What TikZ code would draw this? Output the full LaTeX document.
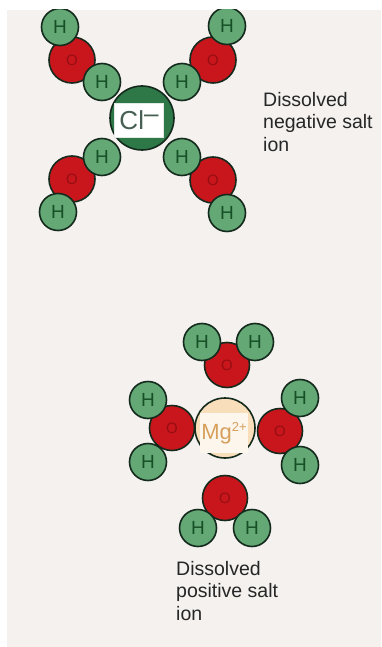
\documentclass[tikz,border=0pt]{standalone}
\usepackage{fontspec}
\setmainfont{Liberation Sans}
\begin{document}
\definecolor{paper}{RGB}{244,241,238}
\definecolor{hfill}{RGB}{100,168,118}
\definecolor{hink}{RGB}{22,80,38}
\definecolor{ofill}{RGB}{200,22,28}
\definecolor{oink}{RGB}{150,14,18}
\definecolor{rim}{RGB}{20,42,28}
\definecolor{clfill}{RGB}{46,120,72}
\definecolor{clink}{RGB}{70,96,84}
\definecolor{mgfill}{RGB}{248,222,186}
\definecolor{mgcard}{RGB}{253,246,236}
\definecolor{mgink}{RGB}{214,160,92}
\begin{tikzpicture}[x=1pt,y=-1pt,
  hatom/.style={circle,draw=rim,line width=1.6pt,fill=hfill,minimum size=37pt,inner sep=0pt,
    text=hink,font=\fontsize{19}{19}\selectfont},
  oatom/.style={circle,draw=rim,line width=1.6pt,fill=ofill,minimum size=46pt,inner sep=0pt,
    text=oink,font=\fontsize{15}{15}\selectfont},
  caption/.style={anchor=north west,align=left,inner sep=0pt,text=black!85,
    font=\fontsize{19.5}{22.5}\selectfont}]
\useasboundingbox (0,0) rectangle (381,647);
\fill[white] (0,0) rectangle (381,647);
\fill[paper] (7,10) rectangle (381,647);
\begin{scope}
\clip (7,10) rectangle (381,647);
% chloride ion with four water molecules, hydrogen side inwards
\node[oatom] (o1) at (72,60) {O};
\node[oatom] (o2) at (213,60) {O};
\node[oatom] (o3) at (72,179) {O};
\node[oatom] (o4) at (213,180) {O};
\node[hatom] (h1a) at (60,27) {H};
\node[hatom] (h1b) at (102,82) {H};
\node[hatom] (h2a) at (227,26) {H};
\node[hatom] (h2b) at (182,82) {H};
\node[hatom] (h3a) at (102,157) {H};
\node[hatom] (h3b) at (58,212) {H};
\node[hatom] (h4a) at (182,157) {H};
\node[hatom] (h4b) at (227,213) {H};
\node[circle,draw=rim,line width=1.6pt,fill=clfill,minimum size=64pt,inner sep=0pt] (cl) at (142,118) {};
\node[fill=white,draw=white!85!clfill,line width=0.6pt,minimum width=49pt,minimum height=34pt,inner sep=0pt,
  text=clink,font=\fontsize{26}{26}\selectfont] (clcard) at (139,120) {Cl\raisebox{7pt}{--}};
% magnesium ion with four water molecules, oxygen side inwards
\node[circle,draw=rim,line width=1.6pt,fill=mgfill,minimum size=60pt,inner sep=0pt] (mg) at (225,428) {};
\node[fill=mgcard,minimum width=48pt,minimum height=40pt,inner sep=0pt,
  text=mgink,font=\fontsize{22}{22}\selectfont] (mgcard) at (224,433) {Mg\raisebox{8pt}{\fontsize{13}{13}\selectfont 2+}};
\node[oatom,minimum size=45pt] (o5) at (227,365) {O};
\node[oatom,minimum size=45pt] (o6) at (172,428) {O};
\node[oatom,minimum size=45pt] (o7) at (280,431) {O};
\node[oatom,minimum size=45pt] (o8) at (225,498) {O};
\node[hatom] (h5a) at (202,342) {H};
\node[hatom] (h5b) at (255,342) {H};
\node[hatom] (h6a) at (148,400) {H};
\node[hatom] (h6b) at (148,462) {H};
\node[hatom] (h7a) at (300,398) {H};
\node[hatom] (h7b) at (300,465) {H};
\node[hatom] (h8a) at (198,528) {H};
\node[hatom] (h8b) at (252,528) {H};
\end{scope}
% captions
\node[caption] (negcap) at (263,92) {Dissolved\\negative salt\\ion};
\node[caption] (poscap) at (176,561) {Dissolved\\positive salt\\ion};
\end{tikzpicture}
\end{document}
